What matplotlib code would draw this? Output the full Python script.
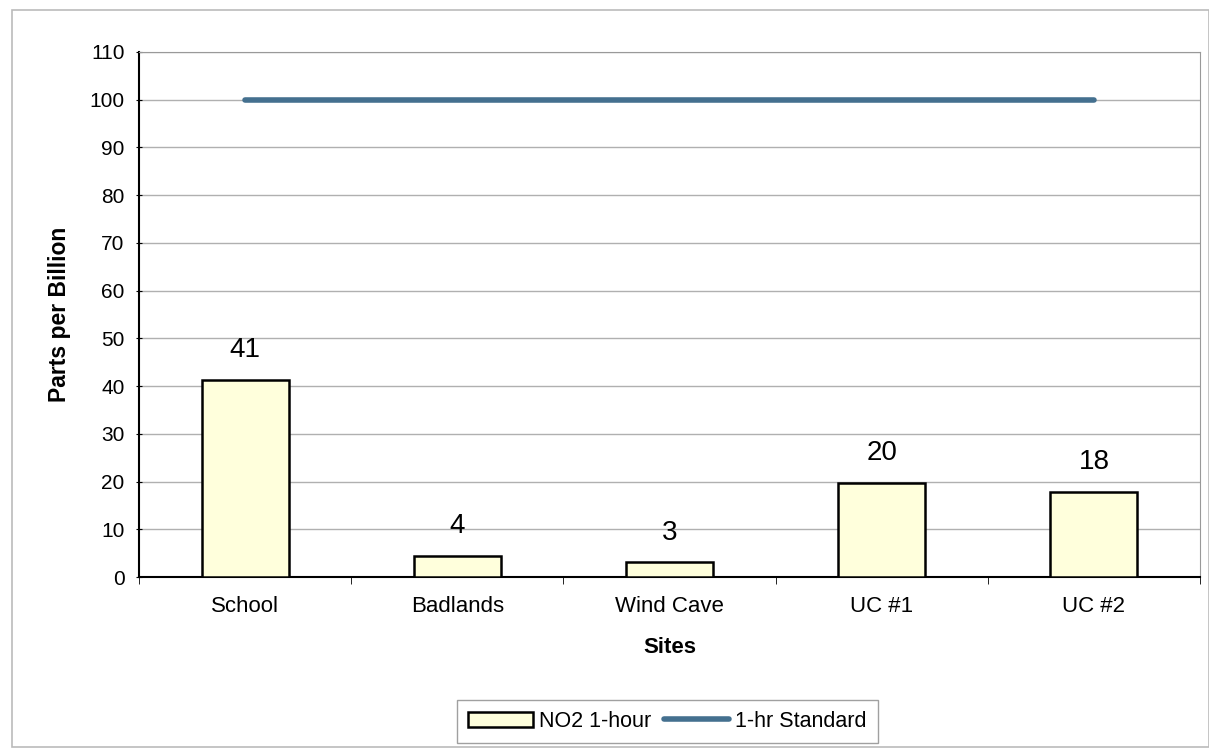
import numpy as np
import matplotlib.pyplot as plt
from matplotlib.patches import Rectangle

# Date
sites = ['School', 'Badlands', 'Wind Cave', 'UC #1', 'UC #2']
no2_1hour = [41.3, 4.4, 3.1, 19.7, 17.9]
no2_labels = ['41', '4', '3', '20', '18']
standard_1hr = [100, 100, 100, 100, 100]

plt.rcParams['font.family'] = ['Liberation Sans', 'DejaVu Sans']

fig = plt.figure(figsize=(12.09, 7.49), dpi=100)
ax = fig.add_axes([0.115, 0.2296, 0.8776, 0.701])

# chenarul exterior al graficului
fig.patches.append(Rectangle((0.010, 0.003), 0.99, 0.984, transform=fig.transFigure,
                             fill=False, edgecolor='#bbbbbb', linewidth=1.2))

x = np.arange(len(sites))
bars = ax.bar(x, no2_1hour, width=0.41, color='#ffffdc', edgecolor='black',
              linewidth=1.8, label='NO2 1-hour', zorder=3)
ax.plot(x, standard_1hr, color='#44708f', linewidth=4, solid_capstyle='round',
        label='1-hr Standard', zorder=4)

for xi, v, lab in zip(x, no2_1hour, no2_labels):
    ax.text(xi, v + 6.2, lab, ha='center', va='center', fontsize=20)

ax.set_xlim(-0.5, len(sites) - 0.5)
ax.set_ylim(0, 110)
ax.set_yticks(np.arange(0, 111, 10))
ax.set_xticks(x)
ax.set_xticklabels(sites)
ax.set_xticks(np.arange(-0.5, len(sites), 1), minor=True)
ax.tick_params(axis='x', which='major', length=0, pad=14, labelsize=16)
ax.tick_params(axis='x', which='minor', length=5, direction='out')
ax.tick_params(axis='y', labelsize=15, length=5, direction='inout', pad=8)
ax.grid(axis='y', color='#b0b0b0', linewidth=1, zorder=0)

for side in ['top', 'right']:
    ax.spines[side].set_color('#999999')
ax.spines['left'].set_linewidth(1.5)
ax.spines['bottom'].set_linewidth(1.5)

ax.set_ylabel('Parts per Billion', fontsize=16.5, fontweight='bold', labelpad=13)
ax.set_xlabel('Sites', fontsize=16, fontweight='bold', labelpad=14)

handles, labels = ax.get_legend_handles_labels()
order = [labels.index('NO2 1-hour'), labels.index('1-hr Standard')]
leg = ax.legend([handles[i] for i in order], [labels[i] for i in order],
                loc='upper center', bbox_to_anchor=(0.498, -0.226), ncol=2,
                fontsize=15.5, frameon=True, fancybox=False, edgecolor='#888888',
                handlelength=3.0, handletextpad=0.3, columnspacing=0.6,
                borderpad=0.5, borderaxespad=0.2)

plt.savefig('out.png', dpi=100)
